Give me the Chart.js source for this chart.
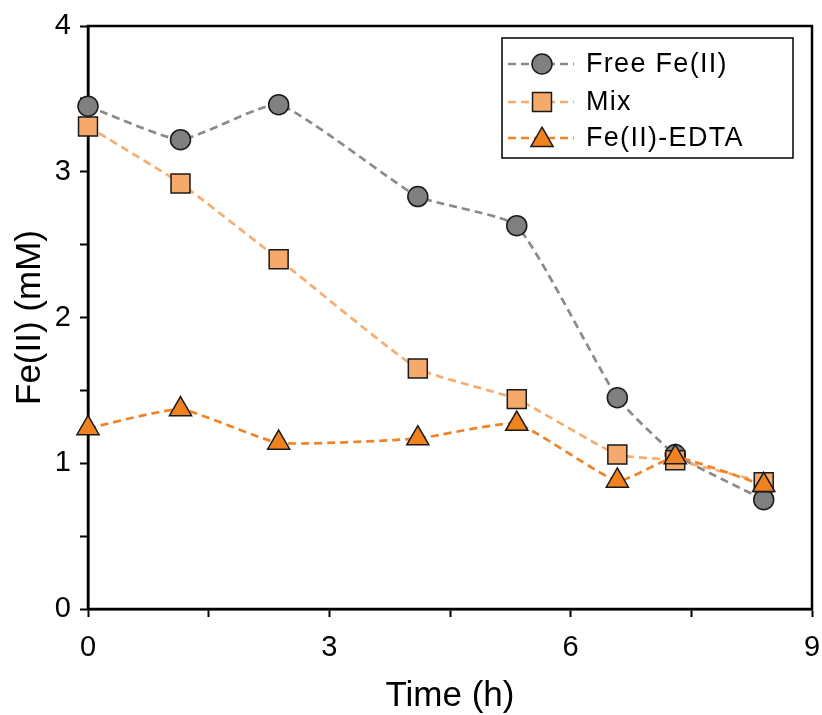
<!DOCTYPE html>
<html>
<head>
<meta charset="utf-8">
<script src="https://cdn.jsdelivr.net/npm/chart.js@4/dist/chart.umd.min.js"></script>
<style>
  html, body { margin: 0; padding: 0; background: #fff; }
  #wrap { width: 822px; height: 715px; }
</style>
</head>
<body>
<div id="wrap"><canvas id="c" width="822" height="715"></canvas></div>
<script>
// Sampling times (h)
const times = [0, 1.15, 2.37, 4.1, 5.33, 6.58, 7.3, 8.4];
// Fe(II) concentration (mM) for each treatment
const freeFe = [3.45, 3.22, 3.46, 2.83, 2.63, 1.45, 1.06, 0.75];
const mixFe = [3.31, 2.92, 2.40, 1.65, 1.44, 1.06, 1.02, 0.87];
const edtaFe = [1.24, 1.37, 1.14, 1.17, 1.27, 0.88, 1.04, 0.85];
const seriesNames = ['Free Fe(II)', 'Mix', 'Fe(II)-EDTA'];
const xTickLabels = [0, 3, 6, 9];
const yTickLabels = [0, 1, 2, 3, 4];

const FONT = "'Liberation Sans', Arial, sans-serif";
const styles = [
  { fill: '#808080', line: '#8a8a8a', shape: 'circle', r: 10 },
  { fill: '#F5AA6C', line: '#F6AD72', shape: 'rect', r: 13.4 },
  { fill: '#F0821F', line: '#EF8427', shape: 'triangle', r: 12.8 }
];
const seriesData = [freeFe, mixFe, edtaFe];

const datasets = seriesData.map((vals, i) => ({
  label: seriesNames[i],
  data: times.map((t, k) => ({ x: t, y: vals[k] })),
  borderColor: styles[i].line,
  borderWidth: 2.7,
  borderDash: [8, 5],
  tension: 0.15,
  pointStyle: styles[i].shape,
  pointRadius: styles[i].r,
  pointBackgroundColor: styles[i].fill,
  pointBorderColor: '#1a1a1a',
  pointBorderWidth: 1.5,
  clip: false,
  order: 2 - i
}));

function drawMarker(ctx, shape, x, y, r, fill) {
  ctx.save();
  ctx.fillStyle = fill;
  ctx.strokeStyle = '#1a1a1a';
  ctx.lineWidth = 1.5;
  ctx.setLineDash([]);
  ctx.beginPath();
  if (shape === 'circle') {
    ctx.arc(x, y, r, 0, Math.PI * 2);
  } else if (shape === 'rect') {
    const s = r * Math.SQRT1_2;
    ctx.rect(x - s, y - s, 2 * s, 2 * s);
  } else {
    let a = 0;
    for (let k = 0; k < 3; k++) {
      const px = x + Math.sin(a) * r, py = y - Math.cos(a) * r;
      if (k === 0) ctx.moveTo(px, py); else ctx.lineTo(px, py);
      a += 2 * Math.PI / 3;
    }
    ctx.closePath();
  }
  ctx.fill();
  ctx.stroke();
  ctx.restore();
}

// Closed frame around the plot area
const framePlugin = {
  id: 'frame',
  beforeDatasetsDraw(chart) {
    const { ctx, chartArea: a } = chart;
    ctx.save();
    ctx.strokeStyle = '#000';
    ctx.lineWidth = 2.5;
    ctx.setLineDash([]);
    ctx.strokeRect(a.left, a.top, a.right - a.left, a.bottom - a.top);
    ctx.restore();
  }
};

// Boxed legend with dashed line samples and markers
const legendPlugin = {
  id: 'boxLegend',
  afterDraw(chart) {
    const ctx = chart.ctx;
    const bx = 502, by = 38, bw = 291, bh = 120;
    ctx.save();
    ctx.strokeStyle = '#000';
    ctx.lineWidth = 1.5;
    ctx.strokeRect(bx, by, bw, bh);
    const rows = [64, 102, 138];
    seriesNames.forEach((name, i) => {
      const y = rows[i];
      ctx.save();
      ctx.strokeStyle = styles[i].line;
      ctx.lineWidth = 2.7;
      ctx.setLineDash([8, 5]);
      ctx.beginPath();
      ctx.moveTo(508, y);
      ctx.lineTo(574, y);
      ctx.stroke();
      ctx.restore();
      const yy = styles[i].shape === 'triangle' ? y + 2 : y;
      drawMarker(ctx, styles[i].shape, 542, yy, styles[i].r, styles[i].fill);
      ctx.fillStyle = '#000';
      ctx.font = '27px ' + FONT;
      ctx.letterSpacing = '1.3px';
      ctx.textBaseline = 'middle';
      ctx.textAlign = 'left';
      ctx.fillText(name, 586, y + 1);
    });
    ctx.restore();
  }
};

new Chart(document.getElementById('c'), {
  type: 'line',
  data: { datasets },
  plugins: [framePlugin, legendPlugin],
  options: {
    responsive: false,
    animation: false,
    layout: { autoPadding: false, padding: { left: 0, right: 10, top: 26, bottom: 0 } },
    plugins: { legend: { display: false }, tooltip: { enabled: false } },
    scales: {
      x: {
        type: 'linear',
        min: 0,
        max: 9,
        afterFit(s) { s.height = 106; s.paddingLeft = 0; s.paddingRight = 0; },
        afterBuildTicks(s) {
          const t = [];
          for (let v = 0; v <= 9; v += 1.5) t.push({ value: v });
          s.ticks = t;
        },
        border: { display: true, color: '#000', width: 2.5 },
        grid: { drawOnChartArea: false, tickLength: 8, tickWidth: 2, color: '#000' },
        ticks: {
          padding: 14,
          maxRotation: 0,
          autoSkip: false,
          color: '#000',
          font: { family: FONT, size: 29 },
          callback: (v) => xTickLabels.includes(v) ? String(v) : ''
        },
        title: {
          display: true,
          text: 'Time (h)',
          color: '#000',
          font: { family: FONT, size: 35, lineHeight: 1.0 },
          padding: { top: 0, bottom: 1 }
        }
      },
      y: {
        type: 'linear',
        min: 0,
        max: 4,
        afterFit(s) { s.width = 88; s.paddingTop = 0; s.paddingBottom = 0; },
        afterBuildTicks(s) {
          const t = [];
          for (let v = 0; v <= 4; v += 0.5) t.push({ value: v });
          s.ticks = t;
        },
        border: { display: true, color: '#000', width: 2.5 },
        grid: { drawOnChartArea: false, tickLength: 8, tickWidth: 2, color: '#000' },
        ticks: {
          padding: 9,
          autoSkip: false,
          color: '#000',
          font: { family: FONT, size: 29 },
          callback: (v) => yTickLabels.includes(v) ? String(v) : ''
        },
        title: {
          display: true,
          text: 'Fe(II) (mM)',
          color: '#000',
          font: { family: FONT, size: 35 },
          padding: { top: 9, bottom: 0 }
        }
      }
    }
  }
});
</script>
</body>
</html>
